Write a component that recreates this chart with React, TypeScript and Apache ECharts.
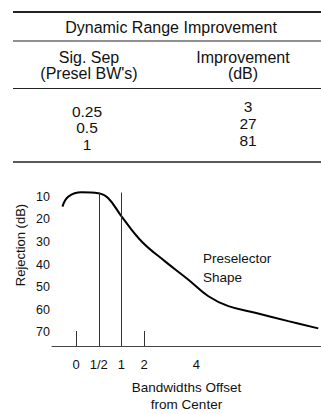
import React, { useEffect, useRef } from "react";
import * as echarts from "echarts";

// Table data
const tableTitle = "Dynamic Range Improvement";
const colHeaders = [["Sig. Sep", "(Presel BW's)"], ["Improvement", "(dB)"]];
const sigSep = ["0.25", "0.5", "1"];
const improvementDb = [3, 27, 81];

// Chart data (x in ordinal "bandwidth offset" positions of the original figure)
const xTickPos = [0, 1, 2, 3, 5.3];
const xTickLabels = ["0", "1/2", "1", "2", "4"];
const shortTickPos = [0, 3];
const tallMarkerPos = [1, 2];
const tallMarkerTopDb = 8.2;
const yTicks = [10, 20, 30, 40, 50, 60, 70];
const curveX = [-0.6, -0.34, 0.25, 0.98, 1.42, 2.01, 2.89, 3.92, 4.95, 5.83, 6.71, 7.89, 9.35, 10.67];
const curveDb = [14.4, 10, 8.1, 8.5, 10.7, 18.8, 29.8, 38.6, 46.7, 54.0, 58.4, 61.3, 65, 68.2];

const FONT = "'Liberation Sans', Arial, Helvetica, sans-serif";
const INK = "#111";

export default function App() {
  const ref = useRef<HTMLDivElement>(null);
  useEffect(() => {
    if (!ref.current) return;
    const chart = echarts.init(ref.current, undefined, { renderer: "svg" });

    const tableTexts: any[] = [];
    tableTexts.push({
      type: "text", x: 171, y: 27,
      style: { text: tableTitle, align: "center", verticalAlign: "middle", font: `16px ${FONT}`, fill: INK },
    });
    const colX = [89, 243];
    colHeaders.forEach((lines, c) => {
      lines.forEach((t, i) => {
        tableTexts.push({
          type: "text", x: colX[c], y: 57 + i * 16,
          style: { text: t, align: "center", verticalAlign: "middle", font: `16px ${FONT}`, fill: INK },
        });
      });
    });
    const leftRowY = [111, 127, 144];
    const rightRowY = [106, 123, 140];
    sigSep.forEach((t, i) => {
      tableTexts.push({
        type: "text", x: 87, y: leftRowY[i],
        style: { text: t, align: "center", verticalAlign: "middle", font: `15.5px ${FONT}`, fill: INK },
      });
    });
    improvementDb.forEach((v, i) => {
      tableTexts.push({
        type: "text", x: 248, y: rightRowY[i],
        style: { text: String(v), align: "center", verticalAlign: "middle", font: `15.5px ${FONT}`, fill: INK },
      });
    });
    const ruleY = [12, 41, 88.5, 162];
    const ruleW = [2, 1.2, 1.2, 1.5];
    const rules = ruleY.map((y, i) => ({
      type: "line",
      shape: { x1: 13, y1: y, x2: 321, y2: y },
      style: { stroke: "#222", lineWidth: ruleW[i] },
    }));

    chart.setOption({
      animation: false,
      grid: { left: 52, right: 0, top: 174, bottom: 67.3 },
      xAxis: {
        type: "value",
        min: -1.06,
        max: 10.79,
        axisLine: { show: true, onZero: false, lineStyle: { color: "#444", width: 1 } },
        axisTick: { show: true, inside: true, length: 15, customValues: shortTickPos, lineStyle: { color: "#333", width: 1 } },
        axisLabel: {
          customValues: xTickPos,
          margin: 12,
          fontSize: 13,
          fontFamily: FONT,
          color: INK,
          formatter: (v: number) => {
            const idx = xTickPos.findIndex((p) => Math.abs(p - v) < 1e-6);
            return idx >= 0 ? xTickLabels[idx] : "";
          },
        },
        splitLine: { show: false },
        name: "Bandwidths Offset\nfrom Center",
        nameLocation: "middle",
        nameGap: 33,
        nameTextStyle: { fontSize: 13.5, fontFamily: FONT, color: INK, lineHeight: 17 },
      },
      yAxis: {
        type: "value",
        inverse: true,
        min: 0,
        max: 76,
        axisLine: { show: false },
        axisTick: { show: false },
        axisLabel: { customValues: yTicks, margin: 2, fontSize: 12.5, fontFamily: FONT, color: INK },
        splitLine: { show: false },
      },
      series: [
        {
          type: "line",
          data: curveX.map((x, i) => [x, curveDb[i]]),
          smooth: 0.4,
          showSymbol: false,
          symbol: "none",
          lineStyle: { color: "#000", width: 2 },
          markLine: {
            silent: true,
            symbol: "none",
            label: { show: false },
            lineStyle: { color: "#333", width: 1, type: "solid" },
            data: tallMarkerPos.map((p) => [{ coord: [p, tallMarkerTopDb] }, { coord: [p, 76] }]),
          },
        },
      ],
      graphic: [
        ...rules,
        ...tableTexts,
        {
          type: "text", x: 20, y: 245, rotation: Math.PI / 2,
          style: { text: "Rejection (dB)", align: "center", verticalAlign: "middle", font: `13px ${FONT}`, fill: INK },
        },
        {
          type: "text", x: 203, y: 267.5,
          style: { text: "Preselector\nShape", align: "left", verticalAlign: "middle", font: `13.5px ${FONT}`, fill: INK, lineHeight: 19 },
        },
      ],
    });
    return () => chart.dispose();
  }, []);
  return (
    <div
      ref={ref}
      style={{ position: "absolute", left: 0, top: 0, width: 321, height: 414, background: "#fff" }}
    />
  );
}
